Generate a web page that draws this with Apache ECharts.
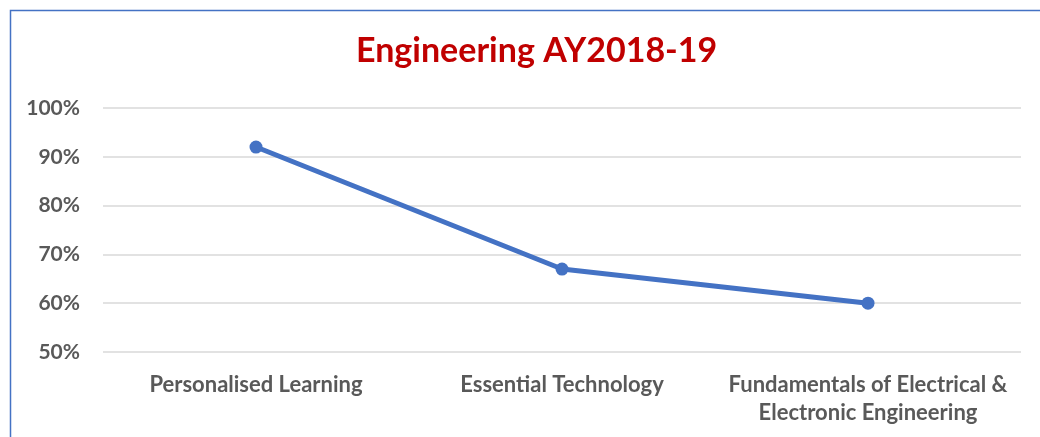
<!DOCTYPE html>
<html>
<head>
<meta charset="utf-8">
<script src="https://cdn.jsdelivr.net/npm/echarts@6/dist/echarts.min.js"></script>
<style>
    html, body { margin: 0; padding: 0; background: #fff; }
    #chart { width: 1040px; height: 437px; }
</style>
</head>
<body>
<div id="chart"></div>
<script>
// course names (second line of the last one wraps like in the original)
const courses = [
    'Personalised Learning',
    'Essential Technology',
    'Fundamentals of Electrical &\nElectronic Engineering'
];
// pass rate in %
const passRate = [92, 67, 60];
const yTicks = [50, 60, 70, 80, 90, 100];

const chart = echarts.init(document.getElementById('chart'));

const option = {
    backgroundColor: '#fff',
    title: {
        text: 'Engineering AY2018-19',
        left: 351,
        top: 29,
        textStyle: {
            color: '#C00000',
            fontFamily: 'Lato',
            fontWeight: 'bold',
            fontSize: 34
        }
    },
    graphic: [
        {
            type: 'polyline',
            shape: { points: [[10.5, 437], [10.5, 10.5], [1040, 10.5]] },
            style: { stroke: '#4472C4', lineWidth: 1.5, fill: null }
        }
    ],
    grid: {
        left: 103,
        right: 19,
        top: 108,
        bottom: 85
    },
    xAxis: {
        type: 'category',
        data: courses,
        axisLine: { show: false },
        axisTick: { show: false },
        axisLabel: {
            color: '#595959',
            fontFamily: 'Lato',
            fontWeight: 'bold',
            fontSize: 22,
            lineHeight: 28,
            margin: 19,
            interval: 0
        }
    },
    yAxis: {
        type: 'value',
        min: yTicks[0],
        max: yTicks[yTicks.length - 1],
        interval: 10,
        axisLine: { show: false },
        axisTick: { show: false },
        splitLine: { lineStyle: { color: '#D9D9D9', width: 1.5 } },
        axisLabel: {
            color: '#595959',
            fontFamily: 'Lato',
            fontWeight: 'bold',
            fontSize: 21,
            margin: 23,
            formatter: '{value}%'
        }
    },
    series: [
        {
            type: 'line',
            data: passRate,
            symbol: 'circle',
            symbolSize: 13,
            lineStyle: { color: '#4472C4', width: 5 },
            itemStyle: { color: '#4472C4' }
        }
    ]
};

chart.setOption(option);
</script>
</body>
</html>
